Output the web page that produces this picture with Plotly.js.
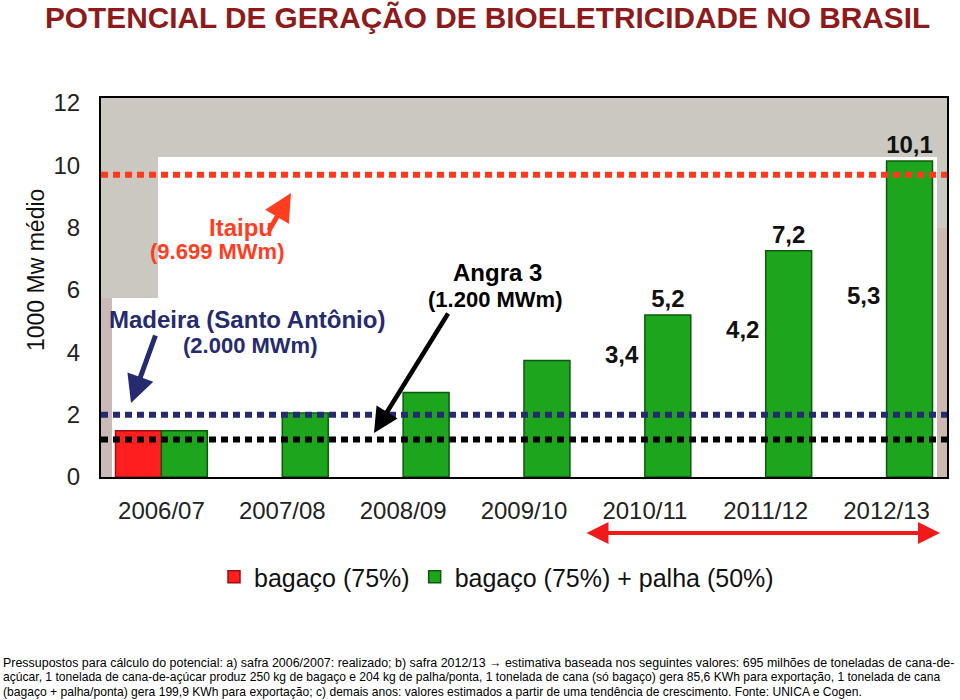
<!DOCTYPE html>
<html>
<head>
<meta charset="utf-8">
<script src="https://cdn.plot.ly/plotly-3.0.1.min.js"></script>
<style>html,body{margin:0;padding:0;background:#fff;}#chart{width:960px;height:700px;}</style>
</head>
<body>
<div id="chart"></div>
<script>
// ---- data ----
const categories = ['2006/07','2007/08','2008/09','2009/10','2010/11','2011/12','2012/13'];
const bagaco = [1.48, null, null, null, 3.4, 4.2, 5.3];
const bagacoLabels = ['', '', '', '', '3,4', '4,2', '5,3'];
const bagacoPalha = [1.48, 2.05, 2.71, 3.74, 5.2, 7.26, 10.14];
const bagacoPalhaLabels = ['', '', '', '', '5,2', '7,2', '10,1'];
const refNames = ['Itaipu', 'Madeira (Santo Antônio)', 'Angra 3'];
const refMWm = ['(9.699 MWm)', '(2.000 MWm)', '(1.200 MWm)'];
const refValues = [9.699, 2.0, 1.2];
const yTicks = [0, 2, 4, 6, 8, 10, 12];
const seriesNames = ['bagaço (75%)', 'bagaço (75%) + palha (50%)'];

// ---- layout helpers ----
const W = 960, H = 700;
const M = {l: 101, r: 13, t: 98, b: 223};
const PW = W - M.l - M.r, PH = H - M.t - M.b;
const px = x => (x - M.l) / PW;
const py = y => (H - M.b - y) / PH;

const SANS = '"Liberation Sans", Arial, Helvetica, sans-serif';
const RED = '#ff1f1f', GREEN = '#1ea51e', NAVY = '#262a6e', ORANGE = '#ff3d1f';

const redColors = bagaco.map((v, i) => i === 0 ? RED : 'rgba(0,0,0,0)');
const redLines = bagaco.map((v, i) => i === 0 ? '#9a1010' : 'rgba(0,0,0,0)');

const traces = [
  {
    type: 'bar', name: seriesNames[0], x: categories, y: bagaco,
    marker: {color: redColors, line: {color: redLines, width: 1.5}},
    text: bagacoLabels, textposition: 'outside', cliponaxis: false, constraintext: 'none',
    textfont: {family: SANS, size: 24, color: '#111', weight: 'bold'},
    hoverinfo: 'skip'
  },
  {
    type: 'bar', name: seriesNames[1], x: categories, y: bagacoPalha,
    marker: {color: GREEN, line: {color: '#0b5a0b', width: 1.5}},
    text: bagacoPalhaLabels, textposition: 'outside', cliponaxis: false, constraintext: 'none',
    textfont: {family: SANS, size: 24, color: '#111', weight: 'bold'},
    hoverinfo: 'skip'
  }
];

const refColors = ['#ff3a1a', NAVY, '#000000'];
const shapes = [
  {type: 'rect', xref: 'paper', yref: 'paper', x0: 0, x1: 1, y0: 0, y1: 1, fillcolor: '#cbc8c2', line: {width: 0}, layer: 'below'},
  {type: 'rect', xref: 'paper', yref: 'paper', x0: 0, x1: px(112), y0: 0, y1: py(298), fillcolor: '#c9b9b8', line: {width: 0}, layer: 'below'},
  {type: 'rect', xref: 'paper', yref: 'paper', x0: px(937), x1: 1, y0: 0, y1: py(228), fillcolor: '#cdb9b0', line: {width: 0}, layer: 'below'},
  {type: 'rect', xref: 'paper', yref: 'paper', x0: px(158), x1: px(937), y0: 0, y1: py(157), fillcolor: '#ffffff', line: {width: 0}, layer: 'below'},
  {type: 'rect', xref: 'paper', yref: 'paper', x0: px(112), x1: px(158), y0: 0, y1: py(298), fillcolor: '#ffffff', line: {width: 0}, layer: 'below'}
];
refValues.forEach((v, i) => {
  shapes.push({type: 'line', xref: 'paper', yref: 'y', x0: 0, x1: 1, y0: v, y1: v,
    line: {color: refColors[i], width: 6, dash: '7px,5px'}, layer: 'above'});
});

const ann = [];
function txt(text, x, y, color, size, extra) {
  ann.push(Object.assign({text: text, xref: 'paper', yref: 'paper', x: px(x), y: py(y),
    xanchor: 'center', yanchor: 'middle', showarrow: false,
    font: {family: SANS, size: size, color: color, weight: 'bold'}}, extra || {}));
}
txt(refNames[0], 241, 228, ORANGE, 24);
txt(refMWm[0], 217, 252, ORANGE, 22);
txt(refNames[1], 247, 319, NAVY, 24);
txt(refMWm[1], 250, 345, NAVY, 22);
txt(refNames[2], 497, 272, '#000', 24);
txt(refMWm[2], 495, 299, '#000', 22);

function arrow(tx, ty, hx, hy, color, width, extra) {
  ann.push(Object.assign({text: '', xref: 'paper', yref: 'paper', x: px(hx), y: py(hy),
    ax: tx - hx, ay: ty - hy, axref: 'pixel', ayref: 'pixel', showarrow: true,
    arrowhead: 2, arrowsize: 1.1, arrowwidth: width, arrowcolor: color}, extra || {}));
}
arrow(156, 334, 131, 403, NAVY, 5);
arrow(268, 232, 291, 193, ORANGE, 5);
arrow(449, 312, 374, 433, '#000', 4.5);
arrow(585, 533, 940, 533, '#f01a1a', 4, {arrowside: 'end+start'});

// y axis title
ann.push({text: '1000 Mw médio', xref: 'paper', yref: 'paper', x: px(36), y: py(270),
  xanchor: 'center', yanchor: 'middle', textangle: -90, showarrow: false,
  font: {family: SANS, size: 23, color: '#111'}});

// footnote
const foot = [
  'Pressupostos para cálculo do potencial: a) safra 2006/2007: realizado; b) safra 2012/13 → estimativa baseada nos seguintes valores: 695 milhões de toneladas de cana-de-',
  'açúcar, 1 tonelada de cana-de-açúcar produz 250 kg de bagaço e 204 kg de palha/ponta, 1 tonelada de cana (só bagaço) gera 85,6 KWh para exportação, 1 tonelada de cana',
  '(bagaço + palha/ponta) gera 199,9 KWh para exportação; c) demais anos: valores estimados a partir de uma tendência de crescimento. Fonte: UNICA e Cogen.'
];
const footSizes = [12.45, 12.1, 12.1];
foot.forEach((t, i) => {
  ann.push({text: t, xref: 'paper', yref: 'paper', x: px(1), y: py(663 + i * 14.3),
    xanchor: 'left', yanchor: 'middle', showarrow: false,
    font: {family: SANS, size: footSizes[i], color: '#000'}});
});

const layout = {
  width: W, height: H,
  margin: M,
  paper_bgcolor: '#ffffff', plot_bgcolor: '#cbc8c2',
  title: {text: 'POTENCIAL DE GERAÇÃO DE BIOELETRICIDADE NO BRASIL', x: 45 / W, xanchor: 'left', xref: 'container',
    y: 1 - 18 / H, yanchor: 'middle', yref: 'container',
    font: {family: SANS, size: 29.8, color: '#8e1b1b', weight: 'bold'}},
  barmode: 'group', bargap: 0.24, bargroupgap: 0,
  showlegend: true,
  legend: {orientation: 'h', x: px(214), xanchor: 'left', y: py(577), yanchor: 'middle',
    font: {family: SANS, size: 25, color: '#111'}, bgcolor: 'rgba(0,0,0,0)', traceorder: 'normal'},
  xaxis: {type: 'category', range: [-0.5, 6.5], showgrid: false, zeroline: false,
    showline: true, linecolor: '#000', linewidth: 2, mirror: true, ticks: '',
    ticklabelstandoff: 11,
    tickfont: {family: SANS, size: 24, color: '#222'}},
  yaxis: {range: [0, 12.16], tickvals: yTicks, showgrid: false, zeroline: false,
    showline: true, linecolor: '#000', linewidth: 2, mirror: true, ticks: '',
    ticklabelstandoff: 14,
    tickfont: {family: SANS, size: 24, color: '#222'}},
  shapes: shapes,
  annotations: ann
};

Plotly.newPlot('chart', traces, layout, {displayModeBar: false, staticPlot: true});
</script>
</body>
</html>
